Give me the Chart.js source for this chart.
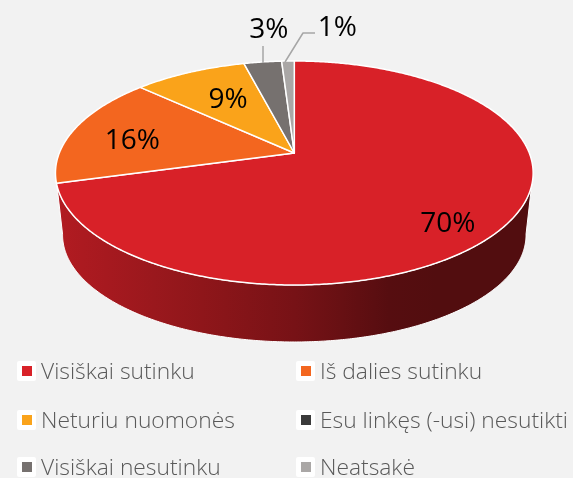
<!DOCTYPE html>
<html>
<head>
<meta charset="UTF-8" />
<title>Pie</title>
<script src="https://cdn.jsdelivr.net/npm/chart.js"></script>
<style>
  html, body { margin: 0; background: #f2f2f2; overflow: hidden; }
  #wrap { position: relative; width: 573px; height: 478px; overflow: hidden; }
  #pie { position: absolute; left: 0; top: 0; }
  .item { position: absolute; font: 300 22.8px "Open Sans", sans-serif; color: #595959; white-space: nowrap; line-height: 30px; height: 30px; }
  .box { position: absolute; left: 0; top: 5px; width: 19px; height: 20px; background: #fff; border-radius: 2px; }
  .box i { position: absolute; left: 5px; top: 5px; width: 10px; height: 10px; display: block; }
  .item span.txt { position: absolute; left: 24px; top: 0; }
</style>
</head>
<body>
<div id="wrap"><canvas id="pie" width="573" height="478"></canvas><div id="legend"></div></div>
<script>
const categories = ["Visiškai sutinku", "Iš dalies sutinku", "Neturiu nuomonės", "Esu linkęs (-usi) nesutikti", "Visiškai nesutinku", "Neatsakė"];
const shares = [70, 16, 9, 0, 3, 1];
const colours = ["#d82128", "#f3661f", "#faa31a", "#3a3a3a", "#76716f", "#aaa7a6"];

// perspective of the tilted disc: unit circle -> screen
const CX = 294.3, TILT = -0.1786;
const TOP = { a: 81.1, b: 153, d: 235 };
const BOTTOM = { a: 65, b: 215.9, d: 228 };
function project(face, u, v) {
  const w = 1 + TILT * v;
  return [CX + face.d * u / w, (face.a * v + face.b) / w];
}
function rim(face, ang) { return project(face, Math.cos(ang), Math.sin(ang)); }

// label nudges on top of the slice's mid point, leader lines for the small ones
const labelNudge = [[1, 17], [4, 7], [15, 10], [0, 0], [-1, -52], [48, -53]];
const leaders = { 4: [[263, 46], [263, 63]], 5: [[285, 62], [303, 33], [315, 33]] };

function shade(hex, x) {
  const stops = [[60, .82], [290, .56], [400, .38], [530, .38]];
  let f = stops[stops.length - 1][1];
  for (let i = 1; i < stops.length; i++) {
    if (x <= stops[i][0]) {
      const t = Math.max(0, (x - stops[i - 1][0]) / (stops[i][0] - stops[i - 1][0]));
      f = stops[i - 1][1] + t * (stops[i][1] - stops[i - 1][1]);
      break;
    }
  }
  const n = parseInt(hex.slice(1), 16);
  return `rgb(${(n >> 16) * f},${((n >> 8) & 255) * f},${(n & 255) * f})`;
}

const tiltedPie = {
  id: "tiltedPie",
  beforeDatasetDraw(chart) {
    const ctx = chart.ctx;
    const arcs = chart.getDatasetMeta(0).data;
    const STEP = Math.PI / 360;

    // side wall between the two silhouette points, in the colour of the slice in front
    const lo = 10 * Math.PI / 180, hi = 170 * Math.PI / 180;
    const front = arcs.findIndex(arc => arc.startAngle <= Math.PI / 2 && arc.endAngle >= Math.PI / 2);
    const grad = ctx.createLinearGradient(60, 0, 530, 0);
    for (let x = 60; x <= 530; x += 47) grad.addColorStop((x - 60) / 470, shade(colours[front], x));
    ctx.beginPath();
    for (let a = lo; a <= hi; a += STEP) {
      const p = rim(TOP, a);
      ctx.lineTo(p[0], p[1]);
    }
    for (let a = hi; a >= lo; a -= STEP) {
      const q = rim(BOTTOM, a);
      ctx.lineTo(q[0], q[1]);
    }
    ctx.closePath();
    ctx.fillStyle = grad;
    ctx.fill();
    ctx.strokeStyle = "#ffffff";
    ctx.lineWidth = 1;
    ctx.stroke();

    // top face
    arcs.forEach((arc, i) => {
      if (arc.endAngle - arc.startAngle < 1e-6) return;
      const c = project(TOP, 0, 0);
      ctx.beginPath();
      ctx.moveTo(c[0], c[1]);
      for (let a = arc.startAngle; a < arc.endAngle; a += STEP) {
        const p = rim(TOP, a);
        ctx.lineTo(p[0], p[1]);
      }
      const last = rim(TOP, arc.endAngle);
      ctx.lineTo(last[0], last[1]);
      ctx.closePath();
      ctx.fillStyle = colours[i];
      ctx.fill();
      ctx.strokeStyle = "#ffffff";
      ctx.lineWidth = 1.5;
      ctx.lineJoin = "round";
      ctx.stroke();
    });

    // leaders and percent labels
    Object.keys(leaders).forEach(k => {
      ctx.beginPath();
      leaders[k].forEach(p => ctx.lineTo(p[0], p[1]));
      ctx.strokeStyle = "#a6a6a6";
      ctx.lineWidth = 1.5;
      ctx.stroke();
    });
    ctx.fillStyle = "#000000";
    ctx.font = '28px "Open Sans", sans-serif';
    ctx.textAlign = "center";
    ctx.textBaseline = "middle";
    arcs.forEach((arc, i) => {
      if (!shares[i]) return;
      const mid = (arc.startAngle + arc.endAngle) / 2;
      const p = project(TOP, 0.75 * Math.cos(mid), 0.75 * Math.sin(mid));
      ctx.fillText(shares[i] + "%", p[0] + labelNudge[i][0], p[1] + labelNudge[i][1]);
    });
    return false;
  }
};

const chart = new Chart(document.getElementById("pie"), {
  type: "pie",
  data: { labels: categories, datasets: [{ data: shares, backgroundColor: colours, borderWidth: 0 }] },
  options: {
    responsive: false,
    animation: false,
    events: [],
    plugins: { legend: { display: false }, tooltip: { enabled: false } }
  },
  plugins: [tiltedPie]
});

// legend in two columns
const legendSpots = [[17, 356], [296, 356], [17, 405], [296, 405], [17, 452], [296, 452]];
document.getElementById("legend").innerHTML = chart.data.labels.map((name, i) =>
  `<div class="item" style="left:${legendSpots[i][0]}px;top:${legendSpots[i][1]}px"><div class="box"><i style="background:${colours[i]}"></i></div><span class="txt">${name}</span></div>`
).join("");
</script>
</body>
</html>
